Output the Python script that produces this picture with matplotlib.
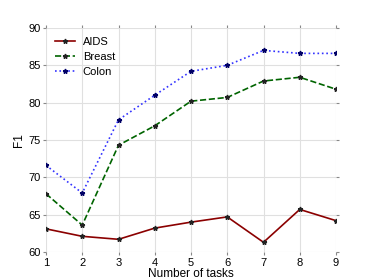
import matplotlib
matplotlib.use("Agg")
import matplotlib.pyplot as plt

plt.rcParams['font.family'] = ['Liberation Sans', 'DejaVu Sans']

tasks = [1, 2, 3, 4, 5, 6, 7, 8, 9]
aids = [63.1, 62.1, 61.7, 63.2, 64.0, 64.7, 61.3, 65.7, 64.2]
breast = [67.8, 63.6, 74.3, 76.9, 80.2, 80.7, 82.9, 83.4, 81.8]
colon = [71.6, 67.9, 77.7, 81.0, 84.2, 85.0, 87.0, 86.6, 86.6]

fig = plt.figure(figsize=(3.74, 2.8), dpi=100)
ax = fig.add_axes([46/374, 28/280, 290/374, 224/280])

ax.plot(tasks, aids, color="#8b0000", ls="-", lw=1.2, marker="*", ms=3.5,
        mec="#222222", mfc="#222222", label="AIDS")
ax.plot(tasks, breast, color="#006400", ls="--", lw=1.2, marker="*", ms=3.5,
        mec="#222222", mfc="#222222", label="Breast")
ax.plot(tasks, colon, color="#3333ff", ls=":", lw=1.2, marker="*", ms=3.5,
        mec="#000066", mfc="#000066", label="Colon")

ax.set_xlim(1, 9)
ax.set_ylim(60, 90)
ax.set_xticks(tasks)
ax.set_yticks([60, 65, 70, 75, 80, 85, 90])
ax.grid(True, color="#e0e0e0", lw=0.8)
for s in ax.spines.values():
    s.set_visible(False)
ax.tick_params(axis="both", labelsize=8, length=2, color="#888888",
               top=True, right=True, direction="out", pad=2)
ax.set_xlabel("Number of tasks", fontsize=8.5, labelpad=0)
ax.set_ylabel("F1", fontsize=8.5, labelpad=2)
ax.legend(loc="upper left", frameon=False, fontsize=8, handlelength=1.8,
          handletextpad=0.7, borderaxespad=0.4, labelspacing=0.45)

fig.savefig("out.png", dpi=100)
